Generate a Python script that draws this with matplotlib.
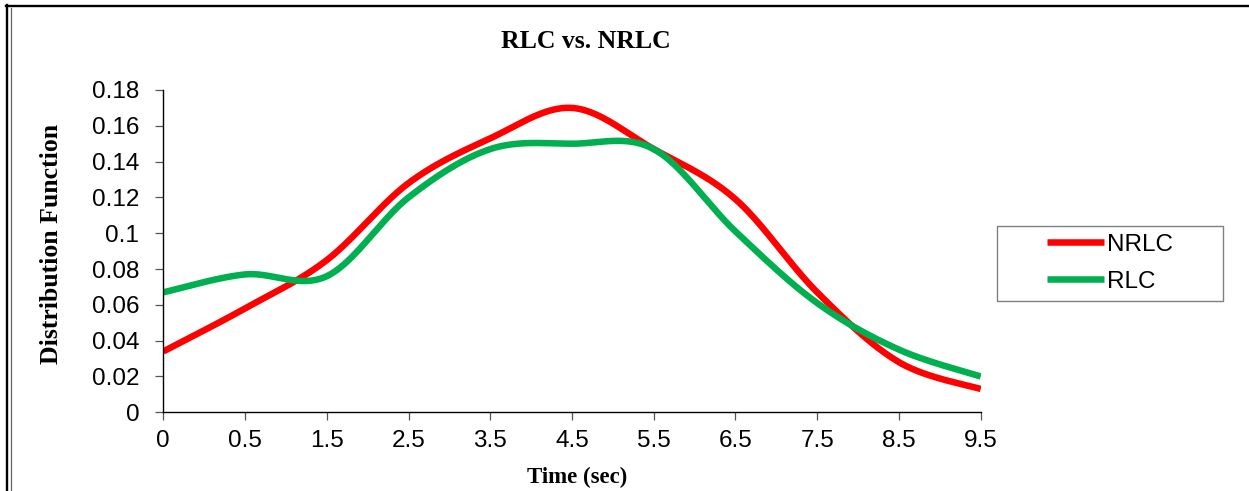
import numpy as np
import matplotlib
matplotlib.use("Agg")
import matplotlib.pyplot as plt
from matplotlib.lines import Line2D
from matplotlib.patches import Rectangle
from matplotlib.ticker import FuncFormatter

# ---- data ----
categories = ['0', '0.5', '1.5', '2.5', '3.5', '4.5', '5.5', '6.5', '7.5', '8.5', '9.5']
nrlc = [0.034, 0.058, 0.085, 0.128, 0.153, 0.170, 0.147, 0.119, 0.067, 0.028, 0.013]
rlc = [0.067, 0.077, 0.076, 0.120, 0.147, 0.150, 0.147, 0.101, 0.061, 0.035, 0.020]
series_names = ['NRLC', 'RLC']
series_colors = ['#FF0000', '#00B050']
yticks = [0, 0.02, 0.04, 0.06, 0.08, 0.10, 0.12, 0.14, 0.16, 0.18]


def smooth(xs, ys, n=40):
    """Excel-style smoothed line (cubic Bezier, Catmull-Rom control points)."""
    pts = np.column_stack([xs, ys]).astype(float)
    N = len(pts)
    out = [pts[0:1]]
    for i in range(N - 1):
        p0 = pts[i]
        p3 = pts[i + 1]
        pm = pts[i - 1] if i > 0 else pts[i]
        pp = pts[i + 2] if i + 2 < N else pts[i + 1]
        c1 = p0 + (p3 - pm) / 6.0
        c2 = p3 - (pp - p0) / 6.0
        t = np.linspace(0, 1, n)[1:, None]
        seg = (1 - t) ** 3 * p0 + 3 * (1 - t) ** 2 * t * c1 + 3 * (1 - t) * t ** 2 * c2 + t ** 3 * p3
        out.append(seg)
    return np.vstack(out)


W, H = 1249, 491
fig = plt.figure(figsize=(W / 100, H / 100), dpi=100)
ax = fig.add_axes([163.3 / W, (H - 412.3) / H, 817.4 / W, 322.3 / H])

xidx = np.arange(len(categories))
for vals, name, col in zip([nrlc, rlc], series_names, series_colors):
    s = smooth(xidx, vals)
    ax.plot(s[:, 0], s[:, 1], color=col, lw=4.7, label=name,
            solid_capstyle='butt', solid_joinstyle='round')

ax.set_xlim(0, len(categories) - 1)
ax.set_ylim(0, 0.18)
ax.set_xticks(xidx)
ax.set_xticklabels(categories)
ax.set_yticks(yticks)
ax.yaxis.set_major_formatter(FuncFormatter(lambda v, p: f'{round(v, 2):g}'))

for sp in ['top', 'right']:
    ax.spines[sp].set_visible(False)
for sp in ['left', 'bottom']:
    ax.spines[sp].set_color('black')
    ax.spines[sp].set_linewidth(1.0)

tickfont = 'Liberation Sans'
ax.tick_params(axis='both', direction='out', length=5.8, width=0.9, color='#555555',
               labelsize=17.5)
ax.tick_params(axis='x', pad=7.0)
ax.tick_params(axis='y', pad=11.5)
for lab in ax.get_xticklabels() + ax.get_yticklabels():
    lab.set_fontfamily(tickfont)

serif = 'Liberation Serif'
fig.text(585.5 / W, 1 - 41 / H, 'RLC vs. NRLC', ha='center', va='center',
         fontsize=18.5, fontweight='bold', family=serif)
fig.text(51 / W, 1 - 243.5 / H, 'Distribution Function', ha='center', va='center',
         rotation=90, fontsize=18.5, fontweight='bold', family=serif)
fig.text(577.5 / W, 1 - 477 / H, 'Time (sec)', ha='center', va='center',
         fontsize=16.5, fontweight='bold', family=serif)

# legend
handles, labels = ax.get_legend_handles_labels()
fig.legend(handles, labels, loc='center', bbox_to_anchor=(1110 / W, 1 - 263.2 / H),
           frameon=False, prop={'family': tickfont, 'size': 17.5},
           handlelength=2.375, handletextpad=0.125, labelspacing=0.62,
           borderpad=0.2)
fig.add_artist(Rectangle((996.7 / W, (H - 300.7) / H), 226.6 / W, 75 / H,
                         transform=fig.transFigure, fill=False,
                         edgecolor='#808080', linewidth=1.0))

# chart border
fig.add_artist(Line2D([7 / W, 7 / W], [0, 1 - 4.5 / H], transform=fig.transFigure,
                      color='black', lw=1.7))
fig.add_artist(Line2D([11.3 / W, 11.3 / W], [0, 1 - 8 / H], transform=fig.transFigure,
                      color='#666666', lw=0.9))
fig.add_artist(Line2D([6 / W, 1], [1 - 5.5 / H, 1 - 5.5 / H], transform=fig.transFigure,
                      color='black', lw=1.7))

fig.savefig('out.png', dpi=100)
